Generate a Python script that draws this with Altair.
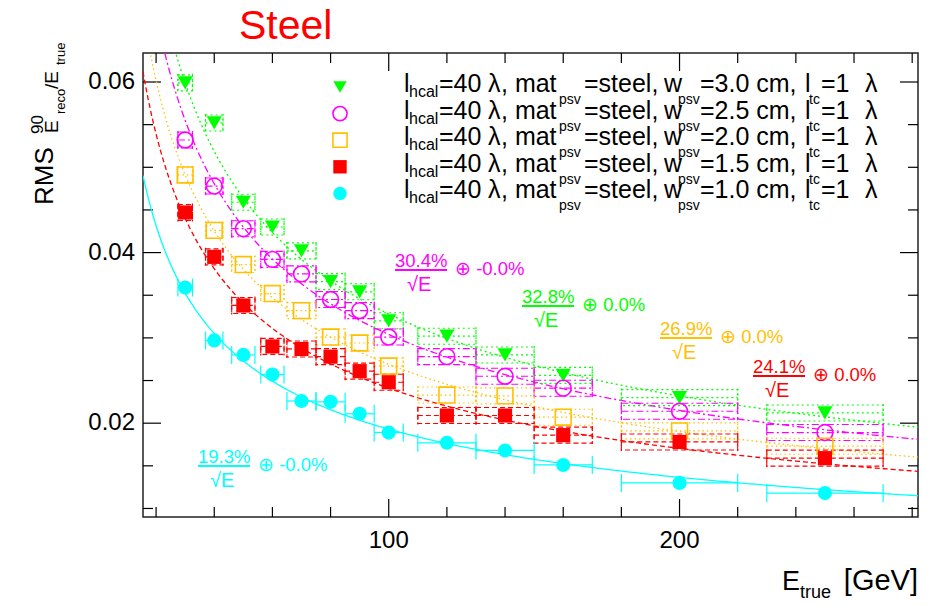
import altair as alt
import numpy as np
import pandas as pd

# ---------------- data ----------------
E_true = [30, 40, 50, 60, 70, 80, 90, 100, 120, 140, 160, 200, 250]
E_halfwidth = [2.5, 3, 4, 4, 5, 5, 5, 5, 10, 10, 10, 20, 20]

series_keys = ["w30", "w25", "w20", "w15", "w10"]
rms_w30 = [0.0599, 0.0552, 0.0459, 0.0430, 0.0402, 0.0366, 0.0354, 0.0320, 0.0302, 0.0280, 0.0256, 0.0230, 0.0212]
rms_w25 = [0.0532, 0.0478, 0.0428, 0.0392, 0.0375, 0.0345, 0.0332, 0.0301, 0.0278, 0.0255, 0.0241, 0.0214, 0.0189]
rms_w20 = [0.0491, 0.0426, 0.0386, 0.0352, 0.0332, 0.0301, 0.0294, 0.0267, 0.0233, 0.0232, 0.0207, 0.0191, 0.0173]
rms_w15 = [0.0447, 0.0395, 0.0338, 0.0290, 0.0287, 0.0278, 0.0261, 0.0248, 0.0209, 0.0209, 0.0186, 0.0178, 0.0159]
rms_w10 = [0.0359, 0.0297, 0.0280, 0.0257, 0.0226, 0.0225, 0.0211, 0.0189, 0.0177, 0.0168, 0.0151, 0.0130, 0.0118]
rms_values = [rms_w30, rms_w25, rms_w20, rms_w15, rms_w10]

# fit: sigma/E = a/sqrt(E) (+) b
fit_stochastic = [0.328, 0.304, 0.269, 0.241, 0.193]
fit_constant = [0.0, -0.0, 0.0, 0.0, -0.0]
fit_stochastic_label = ["32.8%", "30.4%", "26.9%", "24.1%", "19.3%"]
fit_constant_label = ["0.0%", "-0.0%", "0.0%", "0.0%", "-0.0%"]

legend_width = ["3.0", "2.5", "2.0", "1.5", "1.0"]

x_major = [100, 200]
x_major_labels = ["100", "200"]
x_minor = [20, 40, 60, 80, 120, 140, 160, 180, 220, 240, 260, 280]
y_major = [0.02, 0.04, 0.06]
y_major_labels = ["0.02", "0.04", "0.06"]
y_minor = [0.01, 0.015, 0.025, 0.03, 0.035, 0.045, 0.05, 0.055]

# ---------------- styles / layout ----------------
FONT = "Liberation Sans"
colors = ["#00ff00", "#ff00ff", "#ffc000", "#ff0000", "#00ffff"]
shapes = ["triangle-down", "circle", "square", "square", "circle"]
filled = [True, False, False, True, True]
msize = [230, 250, 250, 200, 200]
dashes = [[2, 3], [7, 3, 2, 3], [1.5, 3], [5, 3], None]

LEFT, TOP = 143, 53
W, H = 775, 464
X_DOMAIN = [15.5, 282]
Y_DOMAIN = [0.009, 0.0634]
xs = alt.Scale(domain=X_DOMAIN, nice=False, zero=False)
ys = alt.Scale(domain=Y_DOMAIN, nice=False, zero=False)

dummy = pd.DataFrame({"d": [0]})


def px(x):
    return x - LEFT


def py(y):
    return y - TOP


def text(t, x, y, size, color="black", align="left", angle=None):
    kw = dict(align=align, baseline="alphabetic", font=FONT, fontSize=size, color=color)
    if angle is not None:
        kw["angle"] = angle
    enc = dict(x=alt.value(px(x)), y=alt.value(py(y)), text=alt.value(t))
    if angle is not None:
        enc["angle"] = alt.value(angle)
    return alt.Chart(dummy).mark_text(**kw).encode(**enc)


layers = []

# invisible layer fixing the scales
layers.append(alt.Chart(pd.DataFrame({"x": [100.0], "y": [0.04]})).mark_point(opacity=0).encode(
    x=alt.X("x:Q", scale=xs, axis=None), y=alt.Y("y:Q", scale=ys, axis=None)))

# tick labels
layers.append(alt.Chart(pd.DataFrame({"v": x_major, "t": x_major_labels})).mark_text(
    align="center", baseline="alphabetic", font=FONT, fontSize=24, color="black").encode(
    x=alt.X("v:Q", scale=xs, axis=None), y=alt.value(H + 31), text="t:N"))
layers.append(alt.Chart(pd.DataFrame({"v": y_major, "t": y_major_labels})).mark_text(
    align="right", baseline="middle", font=FONT, fontSize=24, color="black").encode(
    y=alt.Y("v:Q", scale=ys, axis=None), x=alt.value(-8), text="t:N"))

# inward ticks on all four sides
for vals, ln in [(x_minor, 10), (x_major, 18)]:
    d = pd.DataFrame({"v": vals})
    layers.append(alt.Chart(d).mark_rule(color="black", strokeWidth=1.2).encode(
        x=alt.X("v:Q", scale=xs, axis=None), y=alt.value(H), y2=alt.value(H - ln)))
    layers.append(alt.Chart(d).mark_rule(color="black", strokeWidth=1.2).encode(
        x=alt.X("v:Q", scale=xs, axis=None), y=alt.value(0), y2=alt.value(ln)))
for vals, ln in [(y_minor, 10), (y_major, 18)]:
    d = pd.DataFrame({"v": vals})
    layers.append(alt.Chart(d).mark_rule(color="black", strokeWidth=1.2).encode(
        y=alt.Y("v:Q", scale=ys, axis=None), x=alt.value(0), x2=alt.value(ln)))
    layers.append(alt.Chart(d).mark_rule(color="black", strokeWidth=1.2).encode(
        y=alt.Y("v:Q", scale=ys, axis=None), x=alt.value(W), x2=alt.value(W - ln)))

# fit curves
grid = np.linspace(X_DOMAIN[0], X_DOMAIN[1], 300)
for i in range(5):
    fd = pd.DataFrame({"E": grid,
                       "s": np.sqrt(fit_stochastic[i] ** 2 / grid + fit_constant[i] ** 2)})
    mk = dict(color=colors[i], strokeWidth=1.3, clip=True)
    if dashes[i]:
        mk["strokeDash"] = dashes[i]
    layers.append(alt.Chart(fd).mark_line(**mk).encode(
        x=alt.X("E:Q", scale=xs, axis=None), y=alt.Y("s:Q", scale=ys, axis=None)))

# error bars + points
for i in range(5):
    d = pd.DataFrame({"E": E_true, "v": rms_values[i],
                      "lo": [e - w for e, w in zip(E_true, E_halfwidth)],
                      "hi": [e + w for e, w in zip(E_true, E_halfwidth)]})
    base = alt.Chart(d)
    rk = dict(color=colors[i], strokeWidth=1.2)
    if dashes[i]:
        rk["strokeDash"] = dashes[i]
    layers.append(base.mark_rule(**rk).encode(
        x=alt.X("lo:Q", scale=xs, axis=None), x2="hi:Q", y=alt.Y("v:Q", scale=ys, axis=None)))
    for col in ["lo", "hi"]:
        layers.append(base.mark_rule(yOffset=-9, y2Offset=9, **rk).encode(
            x=alt.X(f"{col}:Q", scale=xs, axis=None), y=alt.Y("v:Q", scale=ys, axis=None), y2="v:Q"))
    if dashes[i]:
        layers.append(base.mark_rect(fillOpacity=0, stroke=colors[i], strokeWidth=1.1,
                                     strokeDash=dashes[i], yOffset=-8, y2Offset=8).encode(
            x=alt.X("lo:Q", scale=xs, axis=None), x2="hi:Q",
            y=alt.Y("v:Q", scale=ys, axis=None), y2="v:Q"))

for i in range(5):
    d = pd.DataFrame({"E": E_true, "v": rms_values[i]})
    if filled[i]:
        mk = dict(shape=shapes[i], filled=True, color=colors[i], size=msize[i], opacity=1)
    else:
        mk = dict(shape=shapes[i], filled=False, color=colors[i], size=msize[i], opacity=1,
                  strokeWidth=1.6)
    layers.append(alt.Chart(d).mark_point(**mk).encode(
        x=alt.X("E:Q", scale=xs, axis=None), y=alt.Y("v:Q", scale=ys, axis=None)))

# ---------------- legend ----------------
row_base = [92, 118.6, 145.2, 171.8, 198.4]
M, S = 25, 14
for i in range(5):
    b = row_base[i]
    if filled[i]:
        mk = dict(shape=shapes[i], filled=True, color=colors[i], size=180, opacity=1)
    else:
        mk = dict(shape=shapes[i], filled=False, color=colors[i], size=200, opacity=1, strokeWidth=1.6)
    layers.append(alt.Chart(dummy).mark_point(**mk).encode(
        x=alt.value(px(340)), y=alt.value(py(b - 5))))
    segs = [("l", 404, 0, M), ("hcal", 409, 5, 16), ("=40", 439, 0, M), ("λ", 488, 0, M),
            (", mat", 501, 0, M), ("psv", 559, 12, S), ("=steel,", 584, 0, M), ("w", 664, 0, M),
            ("psv", 678, 12, S), (f"={legend_width[i]} cm,", 700, 0, M), ("l", 805, 0, M),
            ("tc", 809, 12, S), ("=1", 821, 0, M), ("λ", 865, 0, M)]
    for t, x, dy, s in segs:
        layers.append(text(t, x, b + dy, s))

# ---------------- fit annotations ----------------
ann_pos = [(522, 303), (395, 267), (660, 335), (753, 373), (198, 463)]
for i in range(5):
    x0, yb = ann_pos[i]
    c = colors[i]
    layers.append(text(fit_stochastic_label[i], x0, yb, 18.5, c))
    layers.append(alt.Chart(dummy).mark_rule(color=c, strokeWidth=2).encode(
        x=alt.value(px(x0)), x2=alt.value(px(x0 + 52)), y=alt.value(py(yb + 3))))
    layers.append(text("√E", x0 + 12, yb + 24, 20, c))
    layers.append(text("⊕  " + fit_constant_label[i], x0 + 60, yb + 8, 18.5, c))

# ---------------- titles ----------------
layers.append(text("Steel", 239, 39, 41, "#ff0000"))
# x title
layers.append(text("E", 782, 590, 27))
layers.append(text("true", 800, 598, 18))
layers.append(text("[GeV]", 918, 590, 29, align="right"))
# y title (rotated, reads bottom to top)
layers.append(text("RMS", 53, 205, 26, angle=270))
layers.append(text("90", 43, 134, 17, angle=270))
layers.append(text("E", 58, 133, 19, angle=270))
layers.append(text("reco", 65, 114, 13, angle=270))
layers.append(text("/E", 58, 89, 19, angle=270))
layers.append(text("true", 65, 65, 13, angle=270))

chart = alt.layer(*layers).properties(
    width=W, height=H,
    autosize=alt.AutoSizeParams(type="none"),
    padding={"left": LEFT, "top": TOP, "right": 933 - LEFT - W, "bottom": 606 - TOP - H},
    background="white",
).configure_view(stroke="#222222", strokeWidth=1.5)

chart.save("out.html", embed_options={"renderer": "svg", "actions": False})
